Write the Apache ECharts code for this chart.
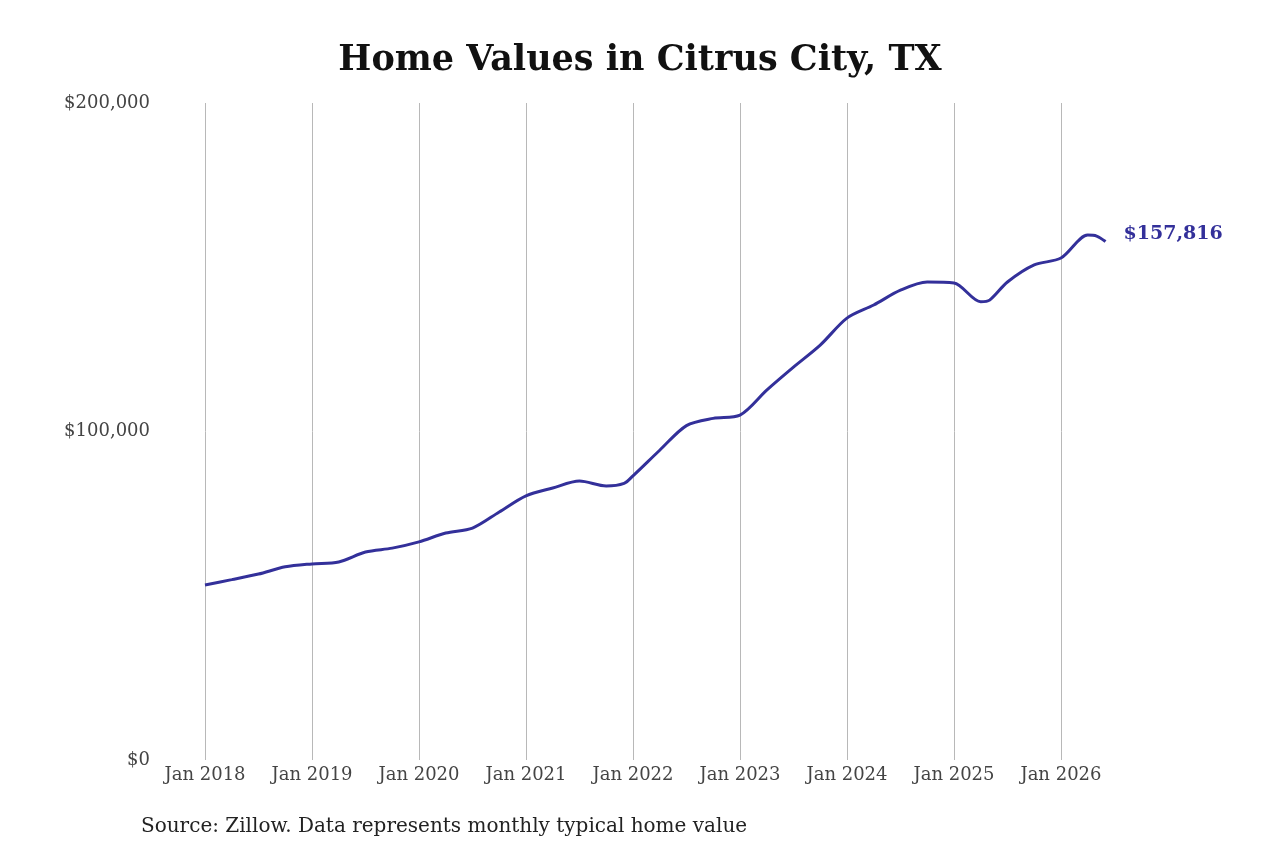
<!DOCTYPE html>
<html><head><meta charset="utf-8">
<script src="https://cdn.jsdelivr.net/npm/echarts@6/dist/echarts.min.js"></script>
<style>html,body{margin:0;background:#fff}#main{width:1280px;height:853px}</style>
</head><body><div id="main"></div>
<script>
// months since Jan 2018
var months = [0, 3, 6, 9, 12, 15, 18, 21, 24, 27, 30, 33, 36, 39, 42, 45, 47, 48, 51, 54, 57, 60, 63, 66, 69, 72, 75, 78, 81, 84, 87, 88, 90, 93, 96, 99, 100, 101];
var values = [53300, 54900, 56600, 58800, 59700, 60300, 63300, 64500, 66400, 69100, 70600, 75500, 80400, 82800, 84900, 83400, 84200, 86500, 94300, 101800, 104000, 105000, 112600, 119600, 126300, 134500, 138500, 143000, 145500, 145200, 139500, 140000, 145500, 150700, 152800, 159800, 159500, 157816];
var yearLabels = ['Jan 2018','Jan 2019','Jan 2020','Jan 2021','Jan 2022','Jan 2023','Jan 2024','Jan 2025','Jan 2026'];

var data = months.map(function (m, i) { return [m, values[i]]; });
var chart = echarts.init(document.getElementById('main'));
chart.setOption({
  textStyle: { fontFamily: 'DejaVu Serif' },
  title: { text: 'Home Values in Citrus City, TX', left: 'center', top: 38,
    textStyle: { fontFamily: 'DejaVu Serif', fontWeight: 'bold', fontSize: 35, color: '#111' } },
  graphic: [{ type: 'text', left: 141, top: 817,
    style: { text: 'Source: Zillow. Data represents monthly typical home value', font: '20px DejaVu Serif', fill: '#222' } }],
  grid: { left: 205, right: 170, top: 103, bottom: 93 },
  xAxis: { type: 'value', min: 0, max: 101.5, interval: 12,
    axisLine: { show: false }, axisTick: { show: false },
    splitLine: { show: true, showMaxLine: false, lineStyle: { color: '#b8b8b8' } },
    axisLabel: { color: '#444', fontSize: 18, margin: 6, showMaxLabel: false,
      formatter: function (v) { return yearLabels[v / 12] || ''; } } },
  yAxis: { type: 'value', min: 0, max: 200000, interval: 100000,
    axisLine: { show: false }, axisTick: { show: false }, splitLine: { show: false },
    axisLabel: { color: '#444', fontSize: 18, margin: 55,
      formatter: function (v) { return '$' + v.toLocaleString('en-US'); } } },
  series: [{ type: 'line', data: data, smooth: 0.3, showSymbol: false,
    lineStyle: { color: '#33309a', width: 3 },
    endLabel: { show: true, distance: 18, color: '#33309a', fontWeight: 'bold', fontSize: 19,
      fontFamily: 'DejaVu Serif', offset: [0, -8],
      formatter: function (p) { return '$' + p.value[1].toLocaleString('en-US'); } } }]
});
</script></body></html>
